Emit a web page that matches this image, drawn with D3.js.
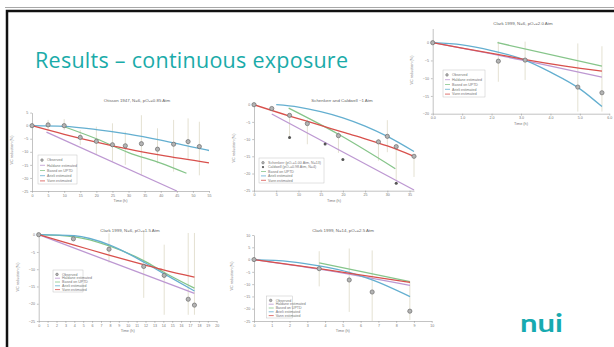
<!DOCTYPE html>
<html>
<head>
<meta charset="utf-8">
<style>
body { margin: 0; background: #fff; }
svg { display: block; font-family: "Liberation Sans", Arial, sans-serif; }
.axis path, .axis line { stroke: #9a9a9a; stroke-width: 0.6; }
.axis text { fill: #777; font-size: 3.6px; }
.ptitle { fill: #666; font-size: 4.4px; text-anchor: middle; }
.alabel { fill: #777; font-size: 3.8px; text-anchor: middle; }
.legend text { fill: #777; font-size: 3.6px; }
</style>
<script src="https://cdnjs.cloudflare.com/ajax/libs/d3/7.8.5/d3.min.js"></script>
</head>
<body>
<svg width="614" height="347"></svg>
<script>
// model colours, shared by every panel
var modelNames = ["Haldane estimated", "Based on UPTD", "Arieli estimated", "Vann estimated"];
var modelColors = ["#bd98d2", "#86c58a", "#64afd0", "#d8504c"];

// Otisson 1947, N=6, pO2=0.85 Atm
var otTime = [0, 5, 10, 15, 20, 25, 29, 34, 39, 44, 48.5, 52];
var otObs  = [0, 0.3, 0, -4.5, -6, -7.3, -7.7, -6.9, -9, -7.1, -6.1, -8];
var otHi   = [0, 2.2, 2.5, -1.7, -0.4, 0.9, -2.3, 4, -1, 2.2, 2.8, 1.5];
var otLo   = [0, -2, -1.7, -7.4, -11.2, -13.8, -15, -19, -14.4, -17.6, -13, -19];
var otHaldane = [[4.5, -2.5], [45, -25]];
var otUptd    = [[10, -0.4], [20, -5], [30, -10.3], [40, -14.3], [48, -18.2]];
var otArieli  = [[0, 0], [10, -0.3], [20, -1.5], [30, -3.2], [40, -5.5], [50, -8.2], [55, -9.5]];
var otVann    = [[0, 0], [10, -3.3], [20, -6.3], [30, -9], [40, -11.3], [55, -14.2]];

// Schenkerr and Caldwell ~1 Atm
var scTime = [0, 4, 8, 12, 19, 28, 30, 32, 36];
var scObs  = [0, -1.1, -3.1, -5.5, -9, -10.8, -9.2, -12.2, -15];
var caTime = [8, 16, 20, 32];
var caObs  = [-9.5, -11.4, -15.9, -22.8];
var scBarTime = [8, 12, 19, 28, 30, 32, 36];
var scBarHi   = [-3.1, -4.4, -8, -10, -4.5, -12.2, -15];
var scBarLo   = [-9.5, -11.5, -14, -16.3, -13.8, -22, -21];
var scHaldane = [[4, -2.7], [36, -24.8]];
var scUptd    = [[7.8, -1], [19, -8.6], [31.8, -18.6]];
var scArieli  = [[5, 0], [10, -0.7], [15, -2], [20, -3.8], [25, -6.2], [30, -9.2], [36, -13.6]];
var scVann    = [[0, 0], [8, -3.3], [15, -6], [20, -8], [25, -9.9], [30, -12], [36, -15]];

// Clark 1999, N=6, pO2=2.0 Atm
var c2Time = [0, 2.23, 3.14, 4.93, 5.75];
var c2Obs  = [0, -5.2, -4.9, -12.5, -14.1];
var c2Hi   = [0, 0.3, 0.3, -0.2, -1];
var c2Lo   = [0, -11, -10.5, -19.4, -19.4];
var c2Haldane = [[0, 0], [3.1, -5], [5.75, -9.7]];
var c2Uptd    = [[2.2, 0], [5.75, -6.6]];
var c2Arieli  = [[0, 0], [1, -0.6], [2, -2.2], [3, -4.5], [4, -8.3], [5, -13], [5.75, -18]];
var c2Vann    = [[0, 0], [1, -1.5], [2.2, -3.3], [3.1, -4.7], [4.5, -6.6], [5.75, -8]];

// Clark 1999, N=6, pO2=1.5 Atm
var c15Time = [0, 3.9, 7.9, 11.8, 14.1, 16.8, 17.5];
var c15Obs  = [0, -1.2, -4.2, -9.2, -11.8, -18.7, -20.4];
var c15Hi   = [0, -1.2, 0.4, 0.8, -2.9, 0.5, 0.5];
var c15Lo   = [0, -1.2, -8.1, -18.3, -23.2, -23.2, -23.2];
var c15Haldane = [[0, 0], [17.5, -17]];
var c15Uptd    = [[0, 0], [4, -0.6], [8, -3.3], [12, -7.8], [14, -10.8], [17.5, -15.5]];
var c15Arieli  = [[0, 0], [4, -0.3], [8, -3], [12, -8.2], [14, -11.2], [17.5, -16.3]];
var c15Vann    = [[0, 0], [4, -3], [8, -6], [12, -8.8], [14, -10.2], [17.5, -12.3]];

// Clark 1999, N=14, pO2=2.5 Atm
var c25Time = [0, 3.67, 5.36, 6.65, 8.77];
var c25Obs  = [0, -3.7, -8.3, -13.2, -21];
var c25Hi   = [0, 3.4, 4.5, 3.7, -9];
var c25Lo   = [0, -10.9, -21.3, -25, -24.6];
var c25Haldane = [[0, 0], [3.67, -3.9], [8.78, -10.5]];
var c25Uptd    = [[3.67, -1.3], [8.78, -9]];
var c25Arieli  = [[0, 0], [2, -0.8], [3.67, -2.6], [5.4, -5.3], [6.65, -8.3], [8.78, -15.1]];
var c25Vann    = [[0, 0], [3.67, -3.7], [5.4, -5.6], [8.78, -9.3]];

var stdLegend = ["Observed"].concat(modelNames);

var svg = d3.select("svg");

// slide frame
svg.append("line").attr("x1", 5).attr("x2", 614).attr("y1", 7.5).attr("y2", 7.5)
  .attr("stroke", "#a8a8a8").attr("stroke-width", 1);
svg.append("path").attr("d", "M7,347V11H614")
  .attr("fill", "none").attr("stroke", "#111").attr("stroke-width", 2.5);

svg.append("text").attr("x", 35).attr("y", 68)
  .attr("fill", "#1aaba9").attr("font-size", 21.5)
  .attr("font-family", "'Open Sans', 'Liberation Sans', sans-serif")
  .attr("textLength", 313)
  .text("Results \u2013 continuous exposure");

function panel(p) {
  var x = d3.scaleLinear().domain(p.xd).range(p.xr);
  var y = d3.scaleLinear().domain(p.yd).range(p.yr);
  var g = svg.append("g");

  g.append("g").attr("class", "axis")
    .attr("transform", "translate(0," + p.yr[0] + ")")
    .call(d3.axisBottom(x).tickValues(d3.range(p.xd[0], p.xt[1] + 0.001, p.xt[0]))
      .tickSize(1.8).tickPadding(1.2).tickSizeOuter(0));
  g.append("g").attr("class", "axis")
    .attr("transform", "translate(" + p.xr[0] + ",0)")
    .call(d3.axisLeft(y).tickValues(p.yt).tickSize(1.8).tickPadding(2).tickSizeOuter(0));

  g.append("text").attr("class", "ptitle").attr("x", p.title[1]).attr("y", p.title[2]).text(p.title[0]);
  g.append("text").attr("class", "alabel")
    .attr("x", (p.xr[0] + p.xr[1]) / 2).attr("y", p.yr[0] + 11).text("Time (h)");
  g.append("text").attr("class", "alabel")
    .attr("transform", "translate(" + p.ylab[0] + "," + p.ylab[1] + ") rotate(-90)")
    .text("VC reduction (%)");

  // error bars
  g.selectAll(".bar").data(p.bars).enter().append("line")
    .attr("x1", function(d) { return x(d[0]); }).attr("x2", function(d) { return x(d[0]); })
    .attr("y1", function(d) { return y(d[1]); }).attr("y2", function(d) { return y(d[2]); })
    .attr("stroke", "#ddd9c6").attr("stroke-width", 0.8);

  var line = d3.line().x(function(d) { return x(d[0]); }).y(function(d) { return y(d[1]); })
    .curve(d3.curveMonotoneX);
  p.models.forEach(function(m, i) {
    if (!m) return;
    g.append("path").attr("d", line(m)).attr("fill", "none")
      .attr("stroke", modelColors[i]).attr("stroke-width", 1.3);
  });

  g.selectAll(".obs").data(p.obs).enter().append("circle")
    .attr("cx", function(d) { return x(d[0]); }).attr("cy", function(d) { return y(d[1]); })
    .attr("r", 2.1).attr("fill", "#b4b4b4").attr("stroke", "#6c6c6c").attr("stroke-width", 0.7);
  if (p.obs2) {
    g.selectAll(".obs2").data(p.obs2).enter().append("circle")
      .attr("cx", function(d) { return x(d[0]); }).attr("cy", function(d) { return y(d[1]); })
      .attr("r", 1.5).attr("fill", "#555");
  }

  // legend
  var L = p.legend;
  var lg = g.append("g").attr("class", "legend");
  lg.append("rect").attr("x", L.x).attr("y", L.y).attr("width", L.w).attr("height", L.h)
    .attr("fill", "#fff").attr("stroke", "#c4c4c4").attr("stroke-width", 0.5);
  var step = (L.h - 3) / L.items.length;
  L.items.forEach(function(it, i) {
    var cy = L.y + 2.5 + step * (i + 0.5);
    if (it.kind === "obs") {
      lg.append("circle").attr("cx", L.x + 4).attr("cy", cy).attr("r", 1.3)
        .attr("fill", "#b4b4b4").attr("stroke", "#6c6c6c").attr("stroke-width", 0.5);
    } else if (it.kind === "obs2") {
      lg.append("circle").attr("cx", L.x + 4).attr("cy", cy).attr("r", 1.1).attr("fill", "#555");
    } else {
      lg.append("line").attr("x1", L.x + 2).attr("x2", L.x + 7).attr("y1", cy).attr("y2", cy)
        .attr("stroke", it.color).attr("stroke-width", 0.8);
    }
    lg.append("text").attr("x", L.x + 9).attr("y", cy + 1.2).text(it.label);
  });
}

function zip(a, b) { return a.map(function(v, i) { return [v, b[i]]; }); }
function bars(t, hi, lo) { return t.map(function(v, i) { return [v, hi[i], lo[i]]; }); }
function stdItems() {
  return stdLegend.map(function(s, i) {
    return i === 0 ? { kind: "obs", label: s } : { kind: "line", label: s, color: modelColors[i - 1] };
  });
}

panel({
  xd: [0, 55], xr: [32, 209], xt: [5, 55], yd: [-25, 5], yr: [191, 112.6], yt: d3.range(-25, 6, 5),
  title: ["Otisson 1947, N=6, pO\u2082=0.85 Atm", 137, 102], ylab: [13, 150],
  bars: bars(otTime, otHi, otLo), obs: zip(otTime, otObs),
  models: [otHaldane, otUptd, otArieli, otVann],
  legend: { x: 38, y: 155, w: 39, h: 29, items: stdItems() }
});

panel({
  xd: [0, 36], xr: [254, 414], xt: [5, 35], yd: [-25, 0], yr: [190.7, 104.7], yt: d3.range(-25, 1, 5),
  title: ["Schenkerr and Caldwell ~1 Atm", 342, 102], ylab: [235, 148],
  bars: bars(scBarTime, scBarHi, scBarLo), obs: zip(scTime, scObs), obs2: zip(caTime, caObs),
  models: [scHaldane, scUptd, scArieli, scVann],
  legend: { x: 259, y: 158, w: 65, h: 25, items: [
    { kind: "obs", label: "Schenkerr (pO\u2082=1.00 Atm, N=13)" },
    { kind: "obs2", label: "Caldwell (pO\u2082=0.98 Atm, N=4)" },
    { kind: "line", label: "Based on UPTD", color: modelColors[1] },
    { kind: "line", label: "Arieli estimated", color: modelColors[2] },
    { kind: "line", label: "Vann estimated", color: modelColors[3] }
  ] }
});

panel({
  xd: [0, 6], xr: [432.7, 609.3], xt: [1, 6], yd: [-20, 4], yr: [113.7, 28.5], yt: d3.range(-20, 1, 5),
  title: ["Clark 1999, N=6, pO\u2082=2.0 Atm", 523, 25], ylab: [413, 70],
  bars: bars(c2Time, c2Hi, c2Lo), obs: zip(c2Time, c2Obs),
  models: [c2Haldane, c2Uptd, c2Arieli, c2Vann],
  legend: { x: 443, y: 70, w: 42, h: 27, items: stdItems() }
});

panel({
  xd: [0, 20], xr: [38.7, 216.7], xt: [1, 20], yd: [-25, 0], yr: [321, 234.7], yt: d3.range(-25, 1, 5),
  title: ["Clark 1999, N=6, pO\u2082=1.5 Atm", 130, 232], ylab: [19, 277],
  bars: bars(c15Time, c15Hi, c15Lo), obs: zip(c15Time, c15Obs),
  models: [c15Haldane, c15Uptd, c15Arieli, c15Vann],
  legend: { x: 53, y: 270, w: 30, h: 22, items: stdItems() }
});

panel({
  xd: [0, 10], xr: [254, 431.7], xt: [1, 10], yd: [-25, 10], yr: [321, 235], yt: d3.range(-25, 11, 5),
  title: ["Clark 1999, N=14, pO\u2082=2.5 Atm", 343, 232], ylab: [233, 276],
  bars: bars(c25Time, c25Hi, c25Lo), obs: zip(c25Time, c25Obs),
  models: [c25Haldane, c25Uptd, c25Arieli, c25Vann],
  legend: { x: 266.7, y: 296, w: 26, h: 22, items: stdItems() }
});

// logo
svg.append("text").attr("x", 520).attr("y", 332)
  .attr("fill", "#17aab0").attr("font-size", 25).attr("font-weight", "bold")
  .attr("font-family", "'Lato', 'Liberation Sans', sans-serif")
  .attr("textLength", 43).attr("lengthAdjust", "spacingAndGlyphs")
  .text("nui");
</script>
</body>
</html>
